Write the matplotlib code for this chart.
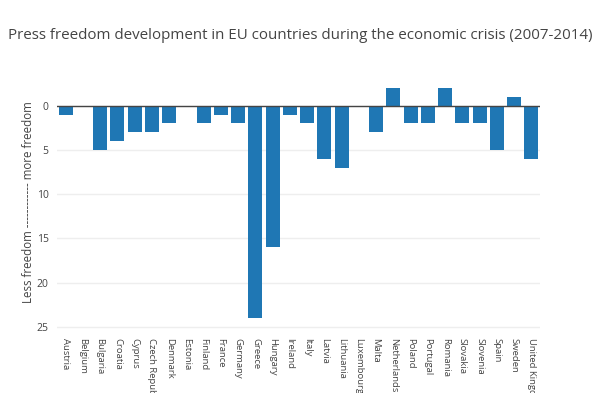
import matplotlib
matplotlib.use("Agg")
import matplotlib.pyplot as plt

countries = ["Austria", "Belgium", "Bulgaria", "Croatia", "Cyprus", "Czech Republic",
             "Denmark", "Estonia", "Finland", "France", "Germany", "Greece", "Hungary",
             "Ireland", "Italy", "Latvia", "Lithuania", "Luxembourg", "Malta",
             "Netherlands", "Poland", "Portugal", "Romania", "Slovakia", "Slovenia",
             "Spain", "Sweden", "United Kingdom"]
change = [1, 0, 5, 4, 3, 3, 2, 0, 2, 1, 2, 24, 16, 1, 2, 6, 7, 0, 3,
          -2, 2, 2, -2, 2, 2, 5, -1, 6]
yticks = [0, 5, 10, 15, 20, 25]

plt.rcParams['font.family'] = ['Open Sans', 'DejaVu Sans']
txt = '#444444'

fig = plt.figure(figsize=(6, 3.93), dpi=100)
ax = fig.add_axes([0.095, 0.15, 0.805, 0.626])

x = list(range(len(countries)))
ax.bar(x, change, width=0.8, color='#1f77b4', zorder=3)
ax.axhline(0, color='#444444', lw=1, zorder=4)

ax.set_xlim(-0.5, len(countries) - 0.5)
ax.set_ylim(25.8, -2)
ax.set_yticks(yticks)
ax.grid(axis='y', color='#eeeeee', lw=1, zorder=0)
for s in ax.spines.values():
    s.set_visible(False)
ax.tick_params(axis='y', length=0, colors=txt, labelsize=7.5, pad=6)
ax.tick_params(axis='x', length=0, colors=txt, labelsize=6.8, pad=3)
ax.set_xticks(x)
ax.set_xticklabels(countries, rotation=-90, va='top', ha='center')

ax.set_ylabel("Less freedom " + "-" * 12 + " more freedom", color=txt, fontsize=8.3)
ax.yaxis.set_label_coords(-0.045, 0.535)
fig.text(0.5, 0.91, "Press freedom development in EU countries during the economic crisis (2007-2014)",
         ha='center', va='center', fontsize=10.9, color=txt)

fig.savefig("out.png", dpi=100)
